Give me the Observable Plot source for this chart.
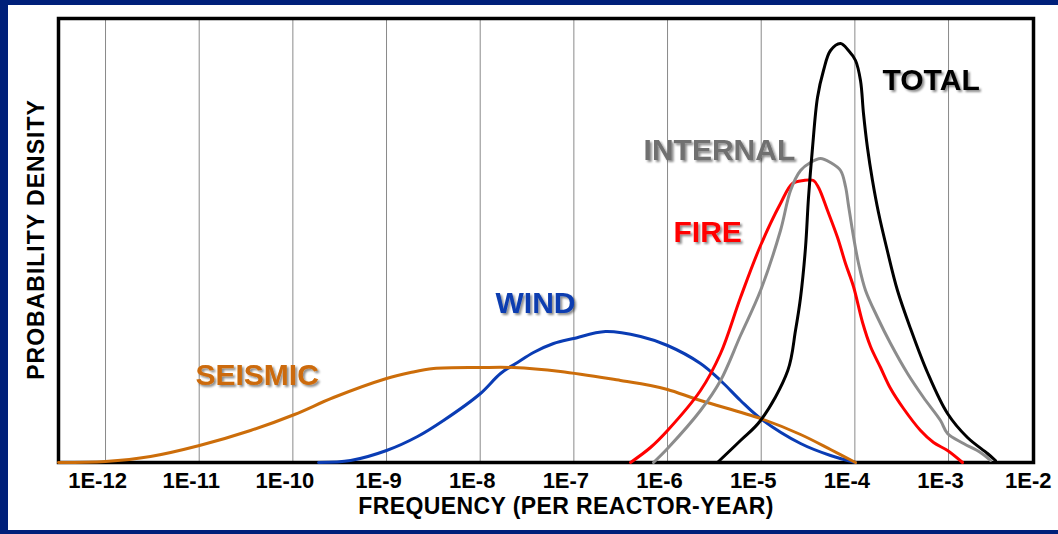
<!DOCTYPE html>
<html><head><meta charset="utf-8">
<script src="https://cdn.jsdelivr.net/npm/d3@7"></script>
<script src="https://cdn.jsdelivr.net/npm/@observablehq/plot@0.6"></script>
<style>
html,body{margin:0;padding:0;background:#fff;}
#wrap{position:relative;width:1058px;height:534px;background:#00207a;overflow:hidden;}
#chart{position:absolute;left:8px;top:5px;width:1050px;height:525px;background:#fff;}
</style></head><body>
<div id="wrap"><div id="chart"></div></div>
<script>
// Tick positions (log10 of frequency) and labels
const tickExps = [-12,-11,-10,-9,-8,-7,-6,-5,-4,-3,-2];
const tickLabels = ["1E-12","1E-11","1E-10","1E-9","1E-8","1E-7","1E-6","1E-5","1E-4","1E-3","1E-2"];

// Series: log10(frequency) and relative probability density
const seismicLogF = [-12.502,-12,-11.52,-10.997,-10.452,-9.982,-9.566,-9,-8.744,-8.498,-7.997,-7.644,-7.143,-6.502,-6.182,-6,-5.648,-5.007,-4.58,-4.26,-3.993];
const seismicDensity = [0,1,6,17,32,48,65,84,90,94,95,95,91,82,77,73,62,44,28,13,0];

const windLogF = [-9.726,-9.384,-9,-8.669,-8.392,-7.997,-7.783,-7.602,-7.431,-7.217,-7.004,-6.662,-6.288,-6,-5.648,-5.434,-5.221,-5.007,-4.58,-4.26,-3.993];
const windDensity = [0,2,12,26,42,69,89,100,110,119,124,131,126,117,99,82,62,44,19,7,0];

const fireLogF = [-6.395,-6.182,-6,-5.648,-5.434,-5.221,-5.007,-4.794,-4.666,-4.548,-4.442,-4.388,-4.292,-4.185,-4.1,-4.015,-3.918,-3.833,-3.726,-3.619,-3.481,-3.299,-3.16,-3.011,-2.851];
const fireDensity = [0,15,32,72,109,165,217,259,279,282,282,275,252,225,199,176,140,116,95,74,54,32,20,12,0];

const internalLogF = [-6.15,-6,-5.648,-5.434,-5.221,-5.007,-4.794,-4.687,-4.58,-4.474,-4.367,-4.26,-4.153,-4.1,-4.068,-4.015,-3.961,-3.886,-3.758,-3.619,-3.438,-3.267,-3.086,-3.011,-2.84,-2.659,-2.552];
const internalDensity = [0,14,52,82,127,172,232,272,292,300,304,300,292,276,257,226,199,172,145,119,89,65,42,29,19,10,2];

const totalLogF = [-5.467,-5.221,-5.007,-4.716,-4.634,-4.58,-4.527,-4.495,-4.452,-4.399,-4.335,-4.26,-4.153,-4.068,-3.993,-3.94,-3.908,-3.866,-3.812,-3.748,-3.654,-3.545,-3.406,-3.225,-3.011,-2.798,-2.584,-2.499];
const totalDensity = [0,22,42,92,132,165,215,265,315,365,392,412,419,412,402,382,349,315,282,250,212,172,134,90,49,25,9,2];

// Series labels
const labelNames = ["SEISMIC","WIND","FIRE","INTERNAL","TOTAL"];
const labelLogF = [-11.04,-7.836,-5.936,-6.256,-3.705];
const labelDensity = [87,159,230,312,382];

const seriesColors = ["#cc6d0a","#0a3cb4","#ff0000","#8c8c8c","#000000"];
const labelColors = ["#cc6a08","#0a3cb0","#ff0000","#707070","#000000"];

const seriesLogF = [seismicLogF, windLogF, fireLogF, internalLogF, totalLogF];
const seriesDensity = [seismicDensity, windDensity, fireDensity, internalDensity, totalDensity];
const drawOrder = [1,0,2,3,4];

const font = "'Liberation Sans', Arial, sans-serif";

const lineMarks = drawOrder.map(si => {
  const rows = seriesLogF[si].map((f, i) => ({logF: f, density: seriesDensity[si][i]}));
  return Plot.line(rows, {x: "logF", y: "density", stroke: seriesColors[si], strokeWidth: 3, curve: "catmull-rom"});
});

const labelMarks = labelNames.map((name, i) => Plot.text([name], {
  x: () => labelLogF[i], y: () => labelDensity[i], text: d => d,
  fill: labelColors[i], fontSize: 30, fontWeight: "bold", textAnchor: "start", lineAnchor: "middle", fontFamily: font
}));

const xMin = -12.502, xMax = -2.093;
const tickIdx = tickExps.map((d, i) => i);
const tickTextOpts = {x: i => tickExps[i], text: i => tickLabels[i], frameAnchor: "bottom", dy: 18,
  textAnchor: "middle", lineAnchor: "middle", fontSize: 22, fontWeight: "bold", fill: "#000", fontFamily: font};

const svg = Plot.plot({
  width: 1050, height: 525,
  marginLeft: 50, marginRight: 25, marginTop: 13, marginBottom: 68,
  style: {background: "white", fontFamily: font},
  x: {type: "linear", domain: [xMin, xMax], axis: null},
  y: {domain: [0, 444], axis: null},
  marks: [
    Plot.ruleX(tickExps.filter(d => d < xMax), {x: d => d, stroke: "#8a8a8a", strokeWidth: 1}),
    Plot.frame({stroke: "#000", strokeWidth: 3.5}),
    ...lineMarks,
    ...labelMarks,
    Plot.text(tickIdx.filter(i => tickExps[i] < xMax), {...tickTextOpts, dx: -8}),
    Plot.text(tickIdx.filter(i => tickExps[i] > xMax), {...tickTextOpts, dx: -14}),
    Plot.text(["FREQUENCY (PER REACTOR-YEAR)"], {text: d => d, frameAnchor: "bottom", dy: 44, dx: 20,
      textAnchor: "middle", lineAnchor: "middle",
      fontSize: 23, fontWeight: "bold", fill: "#000", fontFamily: font}),
    Plot.text(["PROBABILITY DENSITY"], {text: d => d, frameAnchor: "left", dx: -22, dy: -1, rotate: -90,
      textAnchor: "middle", lineAnchor: "middle",
      fontSize: 23, fontWeight: "bold", fill: "#000", fontFamily: font})
  ]
});

// drop shadow for series labels
const root = d3.select(svg);
const defs = root.insert("defs", ":first-child");
const f = defs.append("filter").attr("id", "lblshadow").attr("x", "-10%").attr("y", "-20%").attr("width", "130%").attr("height", "160%");
f.append("feDropShadow").attr("dx", 2).attr("dy", 2).attr("stdDeviation", 1.2).attr("flood-color", "#000").attr("flood-opacity", 0.45);
root.selectAll("text").filter(function(){ return labelNames.includes(this.textContent); }).attr("filter", "url(#lblshadow)");
root.selectAll("text").filter(function(){ return this.textContent === "FREQUENCY (PER REACTOR-YEAR)"; }).style("letter-spacing", "0.4px");
root.selectAll("text").filter(function(){ return this.textContent === "PROBABILITY DENSITY"; }).style("letter-spacing", "1px");

document.getElementById("chart").appendChild(svg);
</script>
</body></html>
